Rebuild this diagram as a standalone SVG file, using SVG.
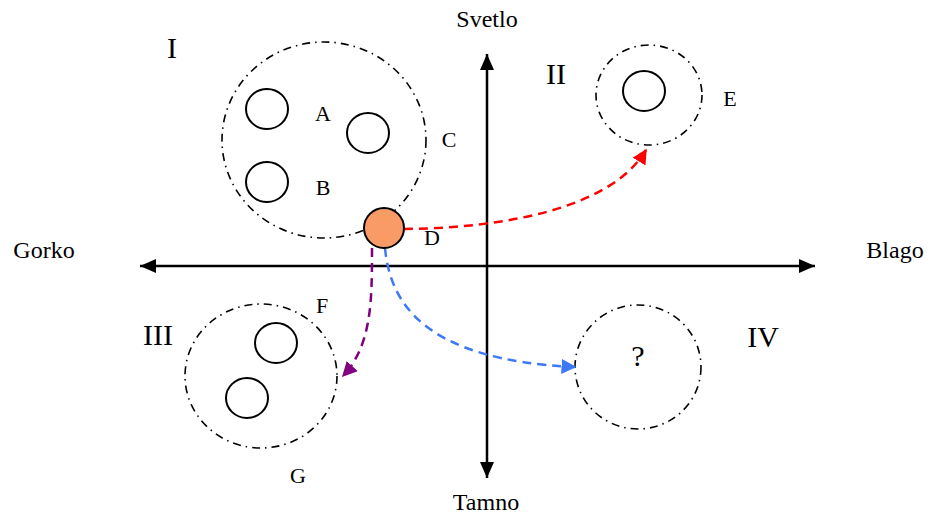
<svg xmlns="http://www.w3.org/2000/svg" width="929" height="516" viewBox="0 0 929 516">
<style>
.ax{font-size:24px;text-anchor:middle}
.lbl{font-size:22px;text-anchor:middle}
.num{font-size:30px;text-anchor:middle}
.grp{fill:none;stroke:#000;stroke-width:1.6;stroke-dasharray:8 5 1.5 5}
.el{fill:none;stroke:#000;stroke-width:2}
.axis{stroke:#000;stroke-width:2.5;fill:none}
.dash{fill:none;stroke-width:2.5;stroke-dasharray:9 6}
</style>
<defs>
<marker id="ar" viewBox="0 0 10 10" refX="9" refY="5" markerWidth="6" markerHeight="6" orient="auto"><path d="M0,0L10,5L0,10z" fill="#ff0000"/></marker>
<marker id="ab" viewBox="0 0 10 10" refX="9" refY="5" markerWidth="6" markerHeight="6" orient="auto"><path d="M0,0L10,5L0,10z" fill="#3d78f5"/></marker>
<marker id="ap" viewBox="0 0 10 10" refX="9" refY="5" markerWidth="6" markerHeight="6" orient="auto"><path d="M0,0L10,5L0,10z" fill="#800080"/></marker>
</defs>
<g font-family="'Liberation Serif', 'DejaVu Serif', serif" fill="#000">
<g id="axes">
<line class="axis" x1="487" y1="266" x2="140" y2="266"/>
<line class="axis" x1="487" y1="266" x2="815" y2="266"/>
<line class="axis" x1="487" y1="266" x2="487" y2="54"/>
<line class="axis" x1="487" y1="266" x2="487" y2="478"/>
<path d="M140,266l16,-7v14z M815,266l-16,-7v14z M487,54l-7,16h14z M487,478l-7,-16h14z" fill="#000"/>
<text class="ax" x="487" y="27">Svetlo</text>
<text class="ax" x="486" y="510">Tamno</text>
<text class="ax" x="44" y="258">Gorko</text>
<text class="ax" x="895" y="258">Blago</text>
</g>
<g id="q1">
<text class="num" x="172" y="58">I</text>
<ellipse class="grp" cx="324" cy="140" rx="102" ry="98"/>
<ellipse class="el" cx="267" cy="109" rx="21" ry="20"/>
<ellipse class="el" cx="267" cy="182" rx="21" ry="20"/>
<ellipse class="el" cx="368" cy="133" rx="21" ry="20"/>
<text class="lbl" x="323" y="121">A</text>
<text class="lbl" x="323" y="195">B</text>
<text class="lbl" x="449" y="147">C</text>
</g>
<g id="q2">
<text class="num" x="556" y="84">II</text>
<ellipse class="grp" cx="649" cy="95" rx="53" ry="50"/>
<ellipse class="el" cx="644" cy="91" rx="21" ry="20"/>
<text class="lbl" x="730" y="106">E</text>
</g>
<g id="q3">
<text class="num" x="158" y="345">III</text>
<ellipse class="grp" cx="261" cy="376" rx="76" ry="72"/>
<ellipse class="el" cx="276" cy="343" rx="21" ry="20"/>
<ellipse class="el" cx="247" cy="398" rx="21" ry="20"/>
<text class="lbl" x="322" y="313">F</text>
<text class="lbl" x="298" y="483">G</text>
</g>
<g id="q4">
<text class="num" x="763" y="347">IV</text>
<ellipse class="grp" cx="638" cy="367" rx="63" ry="62"/>
<text class="num" x="638" y="366">?</text>
</g>
<g id="connectors">
<path class="dash" stroke="#ff0000" d="M404,229 C500,228 610,210 646,150" marker-end="url(#ar)"/>
<path class="dash" stroke="#3d78f5" d="M385,248 C390,300 420,360 575,367" marker-end="url(#ab)"/>
<path class="dash" stroke="#800080" d="M372,248 C372,300 372,345 343,376" marker-end="url(#ap)"/>
</g>
<g id="D">
<circle cx="384" cy="228" r="20" fill="#f99b66" stroke="#000" stroke-width="2"/>
<text class="lbl" x="432" y="245">D</text>
</g>
</g>
</svg>
